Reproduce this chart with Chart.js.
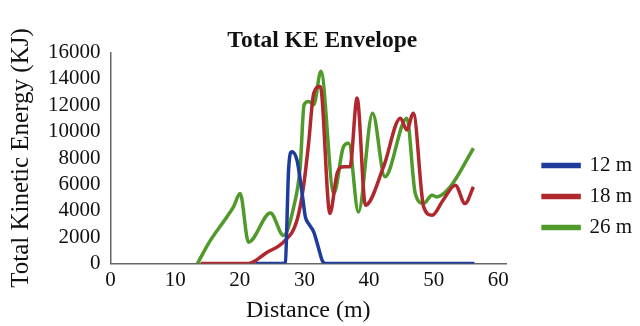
<!DOCTYPE html>
<html lang="en">
<head>
  <meta charset="UTF-8">
  <title>Total KE Envelope</title>
  <script src="https://cdn.jsdelivr.net/npm/chart.js"></script>
  <style>
    body { margin: 0; background: #fff; }
  </style>
</head>
<body>
  <canvas id="myChart" width="640" height="326"></canvas>

<script>
  // values: distance (m) and total kinetic energy (KJ)
  var seriesNames = ['12 m', '18 m', '26 m'];
  var seriesColors = ['#1f3c9c', '#b0282e', '#4f9a2a'];

  var blueX = [22.45, 26.65, 27.05, 27.55, 28.05, 28.85, 29.65, 30.15, 30.65, 31.45, 32.15, 32.75, 33.25, 56.3];
  var blueY = [0, 0, 100, 7090, 8480, 7850, 5310, 3530, 3020, 2380, 1240, 230, 0, 0];

  var redX = [13.95, 21.35, 24.25, 26.75, 28.85, 29.85, 30.65, 31.45, 32.45, 33.95, 35.05, 36.05, 37.05, 38.15, 39.45, 42.25, 44.85, 45.85, 46.85, 48.45, 49.75, 51.45, 53.35, 54.85, 56.15];
  var redY = [0, 0, 860, 1620, 3280, 5810, 9120, 12930, 13430, 3790, 6830, 7340, 7340, 12550, 4420, 7340, 11020, 10130, 11400, 4290, 3660, 4800, 5940, 4550, 5810];

  var greenX = [13.45, 15.45, 18.05, 19.05, 20.05, 21.35, 24.75, 26.75, 28.35, 29.35, 29.95, 30.65, 31.45, 32.55, 34.55, 36.05, 36.85, 38.35, 40.55, 42.45, 45.85, 47.15, 48.45, 49.75, 50.45, 52.55, 56.15];
  var greenY = [0, 1750, 3560, 4320, 5310, 1620, 3830, 2130, 4290, 7340, 12040, 12290, 12040, 14580, 5310, 8860, 9120, 3910, 11400, 6580, 11020, 5310, 4550, 5180, 5050, 5810, 8740];

  var xTicks = [0, 10, 20, 30, 40, 50, 60];
  var yTicks = [0, 2000, 4000, 6000, 8000, 10000, 12000, 14000, 16000];

  function pontos(xs, ys) {
    var lista = [];
    for (var i = 0; i < xs.length; i++) {
      lista.push({ x: xs[i], y: ys[i] });
    }
    return lista;
  }

  var todos = [[blueX, blueY], [redX, redY], [greenX, greenY]];
  var datasets = [];
  for (var i = 0; i < todos.length; i++) {
    datasets.push({
      label: seriesNames[i],
      data: pontos(todos[i][0], todos[i][1]),
      borderColor: seriesColors[i],
      backgroundColor: seriesColors[i],
      borderWidth: 3.5,
      pointRadius: 0,
      fill: false,
      showLine: true,
      cubicInterpolationMode: 'monotone'
    });
  }

  var serif = 'Liberation Serif';

  const config = {
    type: 'scatter',
    data: { datasets: datasets },
    options: {
      responsive: false,
      animation: false,
      layout: { padding: { left: 6, right: 1.5, top: 0, bottom: 0 } },
      plugins: {
        title: {
          display: true,
          text: 'Total KE Envelope',
          color: '#111',
          font: { family: serif, size: 23.5, weight: 'bold', lineHeight: 1 },
          padding: { top: 29, bottom: 0 }
        },
        legend: {
          position: 'right',
          align: 'start',
          // empty title only used to push the items down
          title: { display: true, text: ' ', font: { size: 1, lineHeight: 1 }, padding: { top: 144, bottom: 0 } },
          labels: {
            color: '#111',
            font: { family: serif, size: 21 },
            boxWidth: 36,
            boxHeight: 2,
            padding: 10
          }
        },
        tooltip: { enabled: false }
      },
      scales: {
        x: {
          type: 'linear',
          min: 0,
          max: 61.2, // the axis line runs a little past the 60 label
          afterBuildTicks: function (axis) { axis.ticks = xTicks.map(function (v) { return { value: v }; }); },
          grid: { display: false, drawTicks: false },
          border: { display: true, color: '#666', width: 1.5 },
          ticks: { color: '#111', font: { family: serif, size: 21, lineHeight: 1 }, padding: 6.5, autoSkip: false, maxRotation: 0 },
          title: { display: true, text: 'Distance (m)', color: '#111', font: { family: serif, size: 24, lineHeight: 1 }, padding: { top: 1.5, bottom: 3 } }
        },
        y: {
          min: 0,
          max: 16000,
          afterBuildTicks: function (axis) { axis.ticks = yTicks.map(function (v) { return { value: v }; }); },
          grid: { display: false, drawTicks: false },
          border: { display: true, color: '#666', width: 1.5 },
          ticks: { color: '#111', font: { family: serif, size: 21 }, padding: 10, autoSkip: false, callback: function (v) { return String(v); } },
          title: { display: true, text: 'Total Kinetic Energy (KJ)', color: '#111', font: { family: serif, size: 25 }, padding: { top: 0, bottom: 2 } }
        },
        // empty axis that keeps room between the plot and the legend
        gap: {
          position: 'right',
          display: true,
          grid: { display: false, drawTicks: false },
          border: { display: false },
          ticks: { display: false },
          afterFit: function (axis) { axis.width = 27; }
        }
      }
    }
  };

  let myChart = new Chart(document.getElementById('myChart'), config);
</script>
</body>
</html>
